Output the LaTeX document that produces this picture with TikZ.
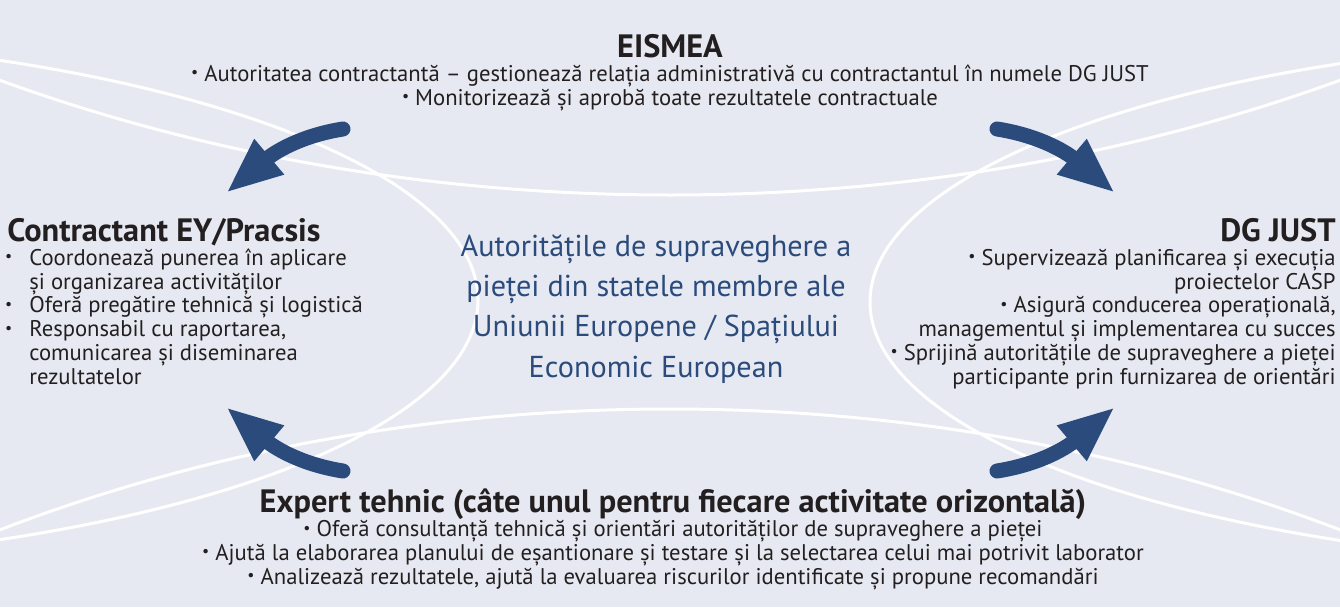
\documentclass[tikz,border=0pt]{standalone}
\usepackage{fontspec}
\setmainfont{PT Sans}
\usetikzlibrary{arrows.meta,positioning}
\definecolor{paneback}{HTML}{E6E9F1}
\definecolor{eublue}{HTML}{2A4B7C}
\definecolor{inkdark}{HTML}{231F20}
\tikzset{
  headtxt/.style={font=\fontsize{18.4}{20}\selectfont\bfseries, text=inkdark, inner sep=0pt},
  bodytxt/.style={font=\fontsize{12.9}{13.5}\selectfont, text=inkdark, inner sep=0pt},
  flowarrow/.style={eublue, line width=3mm, line cap=round, -{Triangle[length=11.3mm,width=8.4mm]}},
  swirl/.style={white, line width=0.6mm}
}
\newcommand{\smdot}{\raisebox{0.3ex}{\fontsize{9}{9}\selectfont•}}
\newcommand{\hangdot}{\llap{\smdot\hspace{3.4mm}}}
\begin{document}
\begin{tikzpicture}[x=0.2mm, y=0.2mm]
  \useasboundingbox (0,0) rectangle (1340,-607);
  \fill[paneback] (0,0) rectangle (1340,-607);
  % white loops behind everything
  \begin{scope}
    \clip (0,0) rectangle (1340,-607);
    \draw[swirl] (-357,-300) ellipse [x radius=835, y radius=265];
    \draw[swirl] (1705,-302) ellipse [x radius=835, y radius=265];
    \draw[swirl] (670,897) ellipse [x radius=1500, y radius=1092];
    \draw[swirl] (670,-1559) ellipse [x radius=1500, y radius=1150];
  \end{scope}

  % centre (base = last line)
  \node[font=\fontsize{17.2}{22.8}\selectfont, text=eublue, inner sep=0pt, align=center, anchor=base] (msa) at (656,-377)
    {Autoritățile de supraveghere a\\ pieței din statele membre ale\\ Uniunii Europene / Spațiului\\ Economic European};

  % top
  \node[headtxt, anchor=base] (eismea) at (670,-57) {EISMEA};
  \node[bodytxt, align=center, anchor=base] (eismeatxt) at (670,-105)
    {\smdot{} Autoritatea contractantă – gestionează relația administrativă cu contractantul în numele DG JUST\\
     \smdot{} Monitorizează și aprobă toate rezultatele contractuale};

  % left
  \node[headtxt, anchor=base west] (contr) at (7,-241) {Contractant EY/Pracsis};
  \node[bodytxt, align=left, anchor=base west] (contrtxt) at (29,-384)
    {\hangdot Coordonează punerea în aplicare\\
     și organizarea activităților\\
     \hangdot Oferă pregătire tehnică și logistică\\
     \hangdot Responsabil cu raportarea,\\
     comunicarea și diseminarea\\
     rezultatelor};

  % right
  \node[headtxt, anchor=base east] (dgjust) at (1336,-241) {DG JUST};
  \node[bodytxt, align=right, anchor=base east] (dgjusttxt) at (1336,-384)
    {\smdot{} Supervizează planificarea și execuția\\
     proiectelor CASP\\
     \smdot{} Asigură conducerea operațională,\\
     managementul și implementarea cu succes\\
     \smdot{} Sprijină autoritățile de supraveghere a pieței\\
     participante prin furnizarea de orientări};

  % bottom
  \node[headtxt, anchor=base] (expert) at (673,-512) {Expert tehnic (câte unul pentru fiecare activitate orizontală)};
  \node[bodytxt, align=center, anchor=base] (experttxt) at (673,-584)
    {\smdot{} Oferă consultanță tehnică și orientări autorităților de supraveghere a pieței\\
     \smdot{} Ajută la elaborarea planului de eșantionare și testare și la selectarea celui mai potrivit laborator\\
     \smdot{} Analizează rezultatele, ajută la evaluarea riscurilor identificate și propune recomandări};

  % arrow ends
  \coordinate (eis-l) at (343,-129);
  \coordinate (eis-r) at (997,-129);
  \coordinate (exp-l) at (343,-471);
  \coordinate (exp-r) at (997,-471);
  \coordinate (contr-in) at (226,-193);
  \coordinate (dg-in) at (1115,-193);
  \coordinate (contr-in2) at (226,-407);
  \coordinate (dg-in2) at (1115,-407);

  \draw[flowarrow] (eis-l) to[out=189, in=40] (contr-in);
  \draw[flowarrow] (eis-r) to[out=-9, in=140] (dg-in);
  \draw[flowarrow] (exp-l) to[out=171, in=-40] (contr-in2);
  \draw[flowarrow] (exp-r) to[out=9, in=220] (dg-in2);
\end{tikzpicture}
\end{document}
